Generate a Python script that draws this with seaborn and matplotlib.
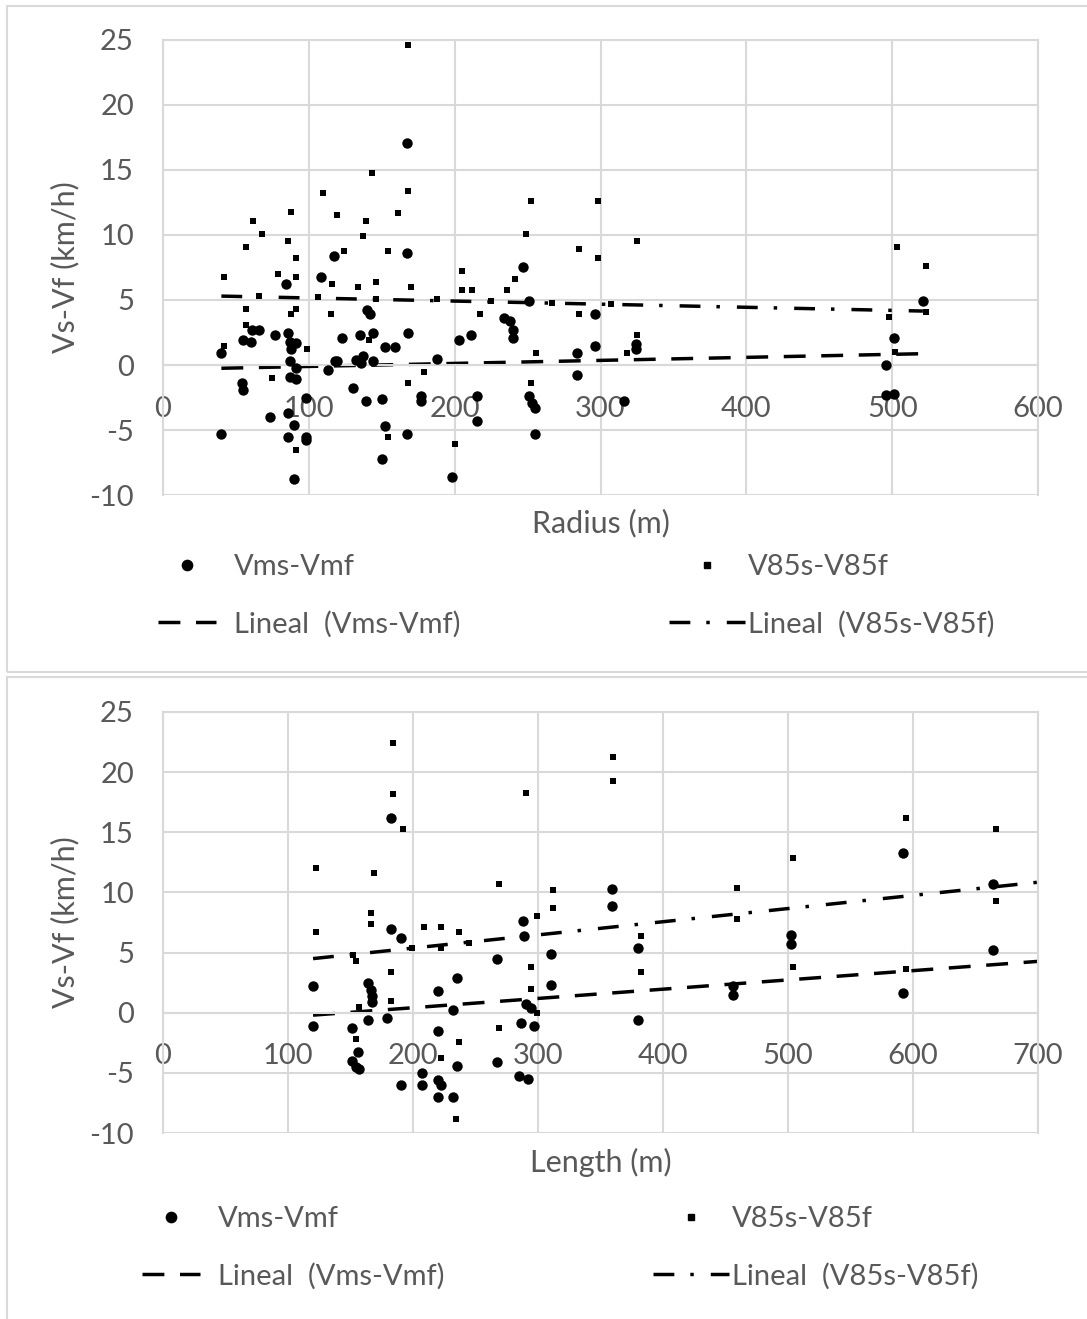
import matplotlib.pyplot as plt
import seaborn as sns
from matplotlib.lines import Line2D
from matplotlib.patches import Rectangle

# ---- top chart: speed difference vs curve radius ----
radius_vm = [40, 40, 54, 55, 55, 60, 61, 66, 73, 77, 84, 86, 86, 86, 87, 87, 87, 88, 90, 90,
             91, 91, 91, 98, 98, 98, 108, 113, 117, 118, 119, 123, 130, 132, 135, 136, 137, 139,
             140, 142, 144, 144, 150, 150, 152, 152, 159, 167, 167, 167, 168, 177, 177, 188,
             198, 203, 211, 215, 215, 234, 238, 240, 240, 247, 251, 251, 253, 255, 255, 284,
             284, 296, 296, 316, 324, 324, 496, 496, 501, 501, 521]
dv_vm_radius = [0.9, -5.3, -1.4, -1.9, 1.9, 1.8, 2.7, 2.7, -4.0, 2.3, 6.2, 2.5, -3.7, -5.5, 1.8,
                0.3, -0.9, 1.2, -4.6, -8.8, 1.7, -0.2, -1.1, -2.5, -5.5, -5.8, 6.8, -0.4, 8.4,
                0.3, 0.3, 2.1, -1.8, 0.4, 2.3, 0.15, 0.7, -2.8, 4.2, 3.9, 0.3, 2.5, -2.6, -7.2,
                1.4, -4.7, 1.4, 17.1, 8.6, -5.3, 2.5, -2.4, -2.8, 0.5, -8.6, 1.9, 2.3, -2.4,
                -4.3, 3.6, 3.4, 2.7, 2.1, 7.5, 4.9, -2.4, -2.9, -3.3, -5.3, 0.9, -0.8, 3.9,
                1.5, -2.8, 1.6, 1.2, 0.0, -2.3, -2.2, 2.1, 4.95]

radius_v85 = [42, 42, 57, 57, 57, 62, 66, 68, 75, 79, 86, 88, 88, 91, 91, 91, 91, 99, 106, 110,
              115, 116, 119, 124, 134, 137, 139, 141, 143, 146, 146, 154, 154, 161, 168, 168,
              168, 170, 179, 188, 200, 205, 205, 212, 217, 225, 236, 241, 249, 252, 252, 256,
              267, 285, 285, 298, 298, 307, 318, 325, 325, 498, 502, 503, 523, 523]
dv_v85_radius = [6.8, 1.5, 9.1, 4.3, 3.1, 11.1, 5.3, 10.1, -1.0, 7.0, 9.5, 11.8, 3.9, 8.2, 6.8,
                 4.3, -6.5, 1.2, 5.2, 13.2, 3.9, 6.2, 11.5, 8.8, 6.0, 9.9, 11.1, 1.9, 14.8, 6.4,
                 5.1, 8.8, -5.5, 11.7, 24.6, 13.4, -1.4, 6.0, -0.5, 5.1, -6.1, 7.2, 5.8, 5.8,
                 3.9, 4.9, 5.8, 6.6, 10.1, 12.6, -1.4, 0.9, 4.8, 8.9, 3.9, 12.6, 8.2, 4.7, 0.9,
                 9.5, 2.3, 3.7, 1.0, 9.05, 7.6, 4.1]

# linear trend lines as drawn in the chart (start / end of each line)
trend_x_radius = [40, 521]
trend_vm_radius = [-0.25, 0.87]
trend_v85_radius = [5.3, 4.15]

# ---- bottom chart: speed difference vs tangent length ----
length_vm = [120, 120, 151, 151, 154, 156, 157, 164, 164, 166, 167, 167, 179, 182, 182, 190,
             190, 207, 207, 220, 220, 220, 222, 220, 232, 232, 235, 235, 267, 267, 285, 286,
             288, 289, 290, 292, 294, 297, 310, 310, 359, 359, 380, 380, 456, 456, 502, 502,
             592, 592, 664, 664]
dv_vm_length = [2.25, -1.1, -1.3, -4.0, -4.5, -3.3, -4.7, 2.5, -0.6, 1.9, 1.4, 0.86, -0.44,
                16.2, 6.95, 6.25, -6.0, -5.0, -6.0, 1.8, -1.5, -5.6, -6.0, -7.0, 0.2, -7.0,
                2.9, -4.4, 4.5, -4.1, -5.3, -0.86, 7.6, 6.4, 0.7, -5.5, 0.4, -1.1, 4.9, 2.3,
                10.3, 8.9, 5.4, -0.6, 2.2, 1.5, 6.5, 5.7, 13.3, 1.6, 10.7, 5.2]

length_v85 = [122, 122, 152, 154, 154, 157, 166, 166, 169, 182, 182, 184, 184, 192, 199, 209,
              222, 222, 222, 234, 237, 237, 245, 269, 269, 290, 294, 294, 299, 299, 312, 312,
              360, 360, 382, 382, 459, 459, 504, 504, 594, 594, 666, 666]
dv_v85_length = [12.0, 6.7, 4.8, 4.3, -2.2, 0.5, 8.3, 7.4, 11.6, 3.35, 0.95, 22.45, 18.2, 15.3,
                 5.4, 7.1, 7.1, 5.4, -3.8, -8.8, 6.7, -2.4, 5.8, 10.7, -1.3, 18.3, 3.8, 2.0,
                 8.0, 0.0, 10.2, 8.7, 21.3, 19.3, 6.4, 3.35, 10.4, 7.8, 12.9, 3.8, 16.2, 3.6,
                 15.3, 9.3]

trend_x_length = [120, 700]
trend_vm_length = [-0.2, 4.27]
trend_v85_length = [4.5, 10.85]

grid_c = "#d9d9d9"
text_c = "#595959"
dash_vm = (0, (6.3, 4.5))
dash_v85 = (0, (6.0, 4.6, 1.0, 4.9))

sns.set_style("white")
plt.rcParams["font.family"] = ["Lato", "DejaVu Sans"]
plt.rcParams["axes.unicode_minus"] = False

fig = plt.figure(figsize=(10.87, 13.19), dpi=100)

# chart frames
fig.add_artist(Rectangle((0.0064, 0.4905), 1.1, 0.505, transform=fig.transFigure,
                         fill=False, edgecolor=grid_c, lw=1.5))
fig.add_artist(Rectangle((0.0064, -0.01), 1.1, 0.4965, transform=fig.transFigure,
                         fill=False, edgecolor=grid_c, lw=1.5))

ax1 = fig.add_axes([0.15, 0.6247, 0.805, 0.345])
ax2 = fig.add_axes([0.15, 0.1410, 0.805, 0.3192])


def style_axes(ax, xmax, xlabel):
    ax.set_xlim(0, xmax)
    ax.set_ylim(-10, 25)
    ax.set_xticks(range(0, xmax + 1, 100))
    ax.set_yticks(range(-10, 26, 5))
    ax.grid(True, color=grid_c, lw=1.5)
    ax.set_axisbelow(True)
    for s in ax.spines.values():
        s.set_color(grid_c)
        s.set_linewidth(1.5)
    ax.spines["bottom"].set_position(("data", 0))
    ax.tick_params(length=0, labelsize=21, labelcolor=text_c)
    ax.tick_params(axis="x", pad=22)
    ax.tick_params(axis="y", pad=21)
    ax.set_xlabel(xlabel, fontsize=22, color=text_c)
    ax.set_ylabel("Vs-Vf (km/h)", fontsize=22, color=text_c)
    ax.yaxis.set_label_coords(-0.095, 0.5)


def trend(ax, x, y, ls):
    sns.lineplot(x=x, y=y, ax=ax, color="black", lw=2.5, linestyle=ls, zorder=2)


def points(ax, x, y, big):
    if big:
        sns.scatterplot(x=x, y=y, ax=ax, color="black", marker="o", s=56,
                        linewidth=0, zorder=3)
    else:
        sns.scatterplot(x=x, y=y, ax=ax, color="black", marker="s", s=16,
                        linewidth=0, zorder=3)


def legends(ax, x1, x2, y_top):
    h_vm = Line2D([], [], color="black", marker="o", ms=7.4, ls="none")
    h_v85 = Line2D([], [], color="black", marker="s", ms=4, ls="none")
    l_vm = Line2D([], [], color="black", lw=2.5, linestyle=dash_vm)
    l_v85 = Line2D([], [], color="black", lw=2.5, linestyle=dash_v85)
    kw = dict(frameon=False, fontsize=21, labelcolor=text_c, loc="upper left",
              bbox_transform=fig.transFigure, borderpad=0, borderaxespad=0,
              labelspacing=1.05)
    leg1 = ax.legend([h_vm, l_vm], ["Vms-Vmf", "Lineal  (Vms-Vmf)"],
                     bbox_to_anchor=(x1 / 1087, 1 - y_top / 1319),
                     handlelength=2.0, handletextpad=0.6, **kw)
    ax.add_artist(leg1)
    ax.legend([h_v85, l_v85], ["V85s-V85f", "Lineal  (V85s-V85f)"],
              bbox_to_anchor=(x2 / 1087, 1 - y_top / 1319),
              handlelength=2.6, handletextpad=0.1, **kw)


# top chart
points(ax1, radius_vm, dv_vm_radius, True)
points(ax1, radius_v85, dv_v85_radius, False)
trend(ax1, trend_x_radius, trend_vm_radius, dash_vm)
trend(ax1, trend_x_radius, trend_v85_radius, dash_v85)
style_axes(ax1, 600, "Radius (m)")
ax1.xaxis.set_label_coords(0.5, -0.03)
legends(ax1, 158, 669, 554)

# bottom chart
points(ax2, length_vm, dv_vm_length, True)
points(ax2, length_v85, dv_v85_length, False)
trend(ax2, trend_x_length, trend_vm_length, dash_vm)
trend(ax2, trend_x_length, trend_v85_length, dash_v85)
style_axes(ax2, 700, "Length (m)")
ax2.xaxis.set_label_coords(0.5, -0.035)
legends(ax2, 142, 653, 1206)

fig.savefig("out.png", dpi=100)
